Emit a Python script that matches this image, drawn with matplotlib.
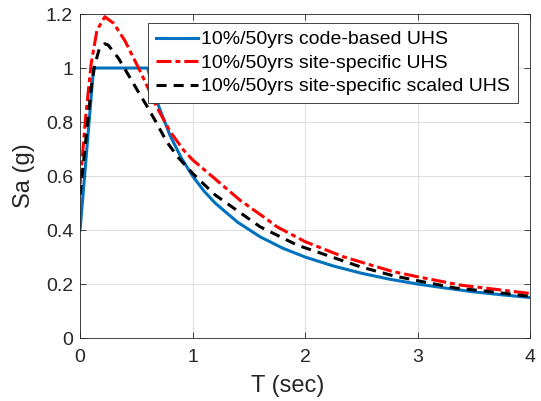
import matplotlib
matplotlib.use('Agg')
import matplotlib.pyplot as plt

plt.rcParams['font.family'] = ['Liberation Sans', 'DejaVu Sans']

# code-based UHS (10%/50yrs)
T_code = [0.0, 0.12, 0.6, 0.65, 0.7, 0.8, 0.9, 1.0, 1.1, 1.2, 1.4, 1.6, 1.8, 2.0,
          2.25, 2.5, 2.75, 3.0, 3.25, 3.5, 3.75, 4.0]
Sa_code = [0.4, 1.0, 1.0, 0.923, 0.857, 0.75, 0.667, 0.6, 0.545, 0.5, 0.429, 0.375,
           0.333, 0.3, 0.267, 0.24, 0.218, 0.2, 0.185, 0.171, 0.16, 0.15]

# site-specific UHS
T_site = [0.0, 0.05, 0.1, 0.15, 0.22, 0.3, 0.4, 0.52, 0.6, 0.68, 0.8, 0.92, 1.0,
          1.17, 1.42, 1.67, 1.75, 2.0, 2.34, 2.78, 3.0, 3.38, 3.7, 4.0]
Sa_site = [0.57, 0.82, 1.02, 1.14, 1.19, 1.165, 1.10, 1.0, 0.93, 0.857, 0.765, 0.696,
           0.66, 0.6, 0.511, 0.437, 0.412, 0.357, 0.301, 0.246, 0.227, 0.196, 0.18, 0.165]

# site-specific scaled UHS
T_scaled = [0.0, 0.05, 0.1, 0.13, 0.17, 0.22, 0.25, 0.34, 0.44, 0.52, 0.6, 0.68, 0.77,
            0.87, 1.0, 1.2, 1.39, 1.6, 1.93, 2.19, 2.49, 2.78, 3.04, 3.34, 3.6, 3.96, 4.0]
Sa_scaled = [0.53, 0.73, 0.93, 1.01, 1.07, 1.09, 1.085, 1.037, 0.967, 0.91, 0.855, 0.796,
             0.727, 0.67, 0.61, 0.53, 0.474, 0.412, 0.344, 0.307, 0.264, 0.231, 0.209,
             0.185, 0.174, 0.156, 0.155]

labels = ['10%/50yrs code-based UHS', '10%/50yrs site-specific UHS',
          '10%/50yrs site-specific scaled UHS']

fig = plt.figure(figsize=(5.41, 4.01), dpi=100)
ax = fig.add_axes([0.148, 0.157, 0.832, 0.808])

ax.plot(T_code, Sa_code, color='#0072BD', lw=2.2, label=labels[0])
ax.plot(T_site, Sa_site, color='red', lw=2.2, ls=(0, (4.9, 1.3, 1.6, 1.3)), label=labels[1])
ax.plot(T_scaled, Sa_scaled, color='black', lw=2.2, ls=(0, (3.3, 2.3)), label=labels[2])

ax.set_xlim(0, 4)
ax.set_ylim(0, 1.2)
ax.set_xticks([0, 1, 2, 3, 4])
ax.set_yticks([0, 0.2, 0.4, 0.6, 0.8, 1.0, 1.2])
ax.set_yticklabels(['0', '0.2', '0.4', '0.6', '0.8', '1', '1.2'])
ax.grid(True, color='#e0e0e0', lw=0.8)
ax.tick_params(direction='in', top=True, right=True, labelsize=14, colors='#262626',
               length=4, width=0.6)
ax.tick_params(axis='x', pad=8)
ax.tick_params(axis='y', pad=5)
for s in ax.spines.values():
    s.set_color('#262626')
    s.set_linewidth(0.6)

ax.set_xlabel('T (sec)', fontsize=17, color='#262626')
ax.xaxis.set_label_coords(0.462, -0.115)
ax.set_ylabel('Sa (g)', fontsize=17, color='#262626', labelpad=8)

leg = ax.legend(loc='upper right', bbox_to_anchor=(0.973, 0.972), borderaxespad=0,
                fontsize=14, handlelength=2.2, handletextpad=0.15, borderpad=0.4,
                labelspacing=0.3, fancybox=False, framealpha=1)
leg.get_frame().set_edgecolor('#262626')
leg.get_frame().set_linewidth(0.6)

fig.savefig('out.png', dpi=100)
